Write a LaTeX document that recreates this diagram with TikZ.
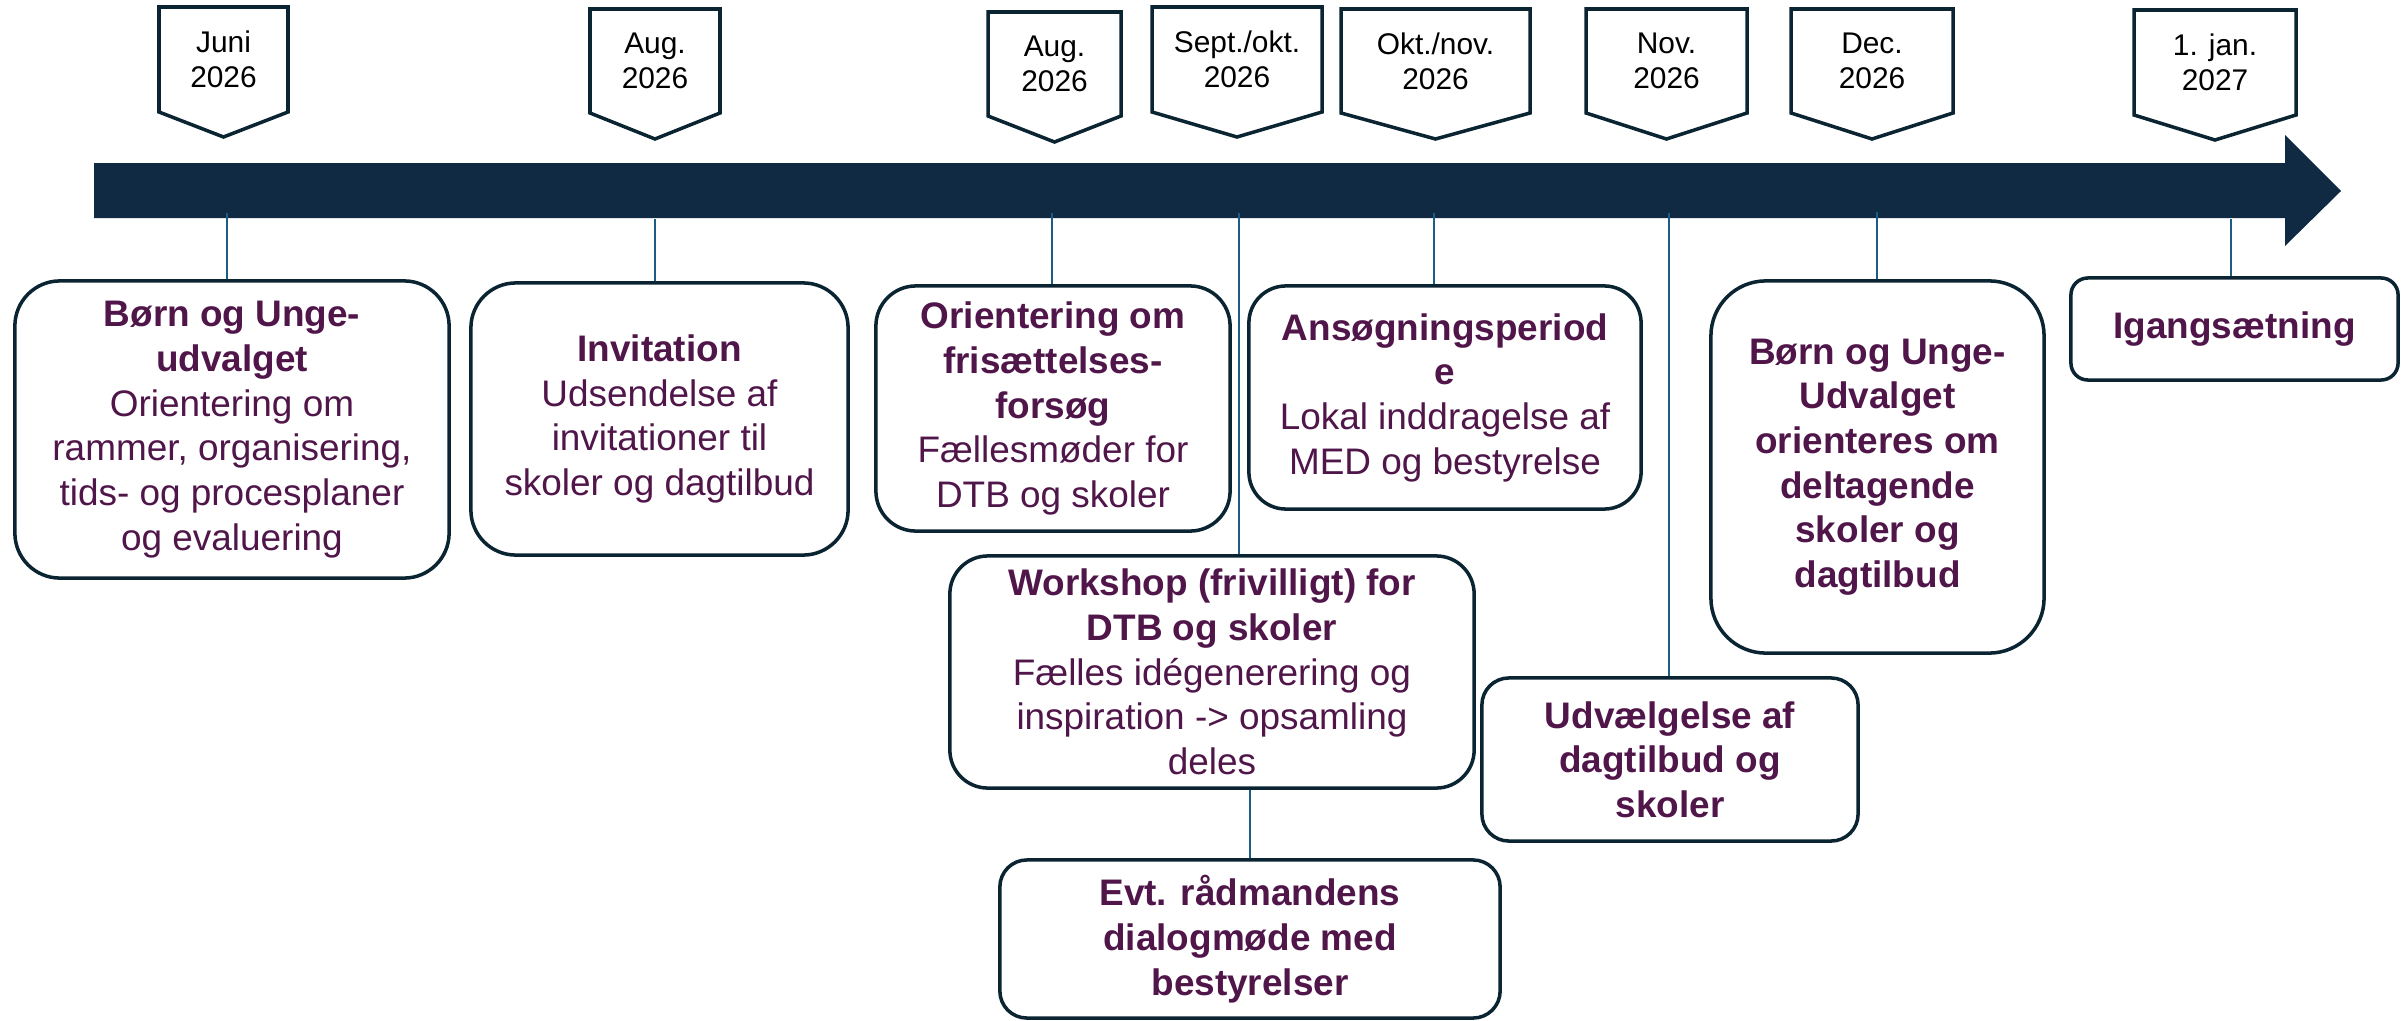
\documentclass[tikz,border=0pt]{standalone}
\usepackage{fontspec}
\setmainfont{Liberation Sans}
\definecolor{barnavy}{RGB}{17,42,68}
\definecolor{edgeteal}{RGB}{10,36,50}
\definecolor{tickblue}{RGB}{26,94,134}
\definecolor{plum}{RGB}{80,22,74}
\begin{document}
\begin{tikzpicture}[x=0.01cm, y=-0.01cm,
  phase/.style={draw=edgeteal,line width=1pt,fill=white,rounded corners=#1,align=center,text=plum,inner sep=2pt,font=\fontsize{10.5}{12.7}\selectfont},
  phasebold/.style={phase=#1,font=\fontsize{10.5}{12.7}\selectfont\bfseries},
  datetag/.style={draw=edgeteal,line width=1pt,fill=white},
  datetxt/.style={align=center,font=\fontsize{8.5}{10}\selectfont},
  tick/.style={draw=tickblue,line width=0.75pt}]
\useasboundingbox (0,0) rectangle (2405,1021);
% timeline bar
\fill[barnavy] (94,163) -- (2285,163) -- (2285,135) -- (2341,191) -- (2285,246) -- (2285,218) -- (94,218) -- cycle;
% date tags
\draw[datetag] (159,7) -- (288,7) -- (288,112) -- (223.5,137) -- (159,112) -- cycle; \node[datetxt] (d1) at (223.5,59.5) {Juni\\2026};
\draw[datetag] (590,9) -- (720,9) -- (720,113) -- (655,139) -- (590,113) -- cycle; \node[datetxt] (d2) at (655,61) {Aug.\\2026};
\draw[datetag] (988,12) -- (1121,12) -- (1121,116) -- (1054.5,142) -- (988,116) -- cycle; \node[datetxt] (d3) at (1054.5,64) {Aug.\\2026};
\draw[datetag] (1152,7) -- (1322,7) -- (1322,112) -- (1237,137) -- (1152,112) -- cycle; \node[datetxt] (d4) at (1237,59.5) {Sept./okt.\\2026};
\draw[datetag] (1341,9) -- (1530,9) -- (1530,113) -- (1435.5,139) -- (1341,113) -- cycle; \node[datetxt] (d5) at (1435.5,61) {Okt./nov.\\2026};
\draw[datetag] (1586,9) -- (1747,9) -- (1747,113) -- (1666.5,139) -- (1586,113) -- cycle; \node[datetxt] (d6) at (1666.5,61) {Nov.\\2026};
\draw[datetag] (1791,9) -- (1953,9) -- (1953,113) -- (1872,139) -- (1791,113) -- cycle; \node[datetxt] (d7) at (1872,61) {Dec.\\2026};
\draw[datetag] (2134,10) -- (2296,10) -- (2296,115) -- (2215,140) -- (2134,115) -- cycle; \node[datetxt] (d8) at (2215,62.5) {1. jan.\\2027};
% phases
\node[phase=0.45cm,minimum width=4.34cm,minimum height=2.97cm] (b1) at (232,429.5) {\textbf{Børn og Unge-}\\\textbf{udvalget}\\Orientering om\\rammer, organisering,\\tids- og procesplaner\\og evaluering};
\node[phase=0.45cm,minimum width=3.77cm,minimum height=2.72cm] (b2) at (659.5,419) {\textbf{Invitation}\\Udsendelse af\\invitationer til\\skoler og dagtilbud};
\node[phase=0.40cm,minimum width=3.54cm,minimum height=2.45cm] (b3) at (1053,408.5) {\textbf{Orientering om}\\\textbf{frisættelses-}\\\textbf{forsøg}\\Fællesmøder for\\DTB og skoler};
\node[phase=0.37cm,minimum width=3.92cm,minimum height=2.23cm] (b4) at (1445,397.5) {\textbf{Ansøgningsperiod}\\\textbf{e}\\Lokal inddragelse af\\MED og bestyrelse};
\node[phase=0.38cm,minimum width=5.24cm,minimum height=2.32cm] (b5) at (1212,672) {\textbf{Workshop (frivilligt) for}\\\textbf{DTB og skoler}\\Fælles idégenerering og\\inspiration -> opsamling\\deles};
\node[phasebold=0.27cm,minimum width=5.00cm,minimum height=1.58cm] (b6) at (1250,939) {Evt. rådmandens\\dialogmøde med\\bestyrelser};
\node[phasebold=0.27cm,minimum width=3.76cm,minimum height=1.63cm] (b7) at (1670,759.5) {Udvælgelse af\\dagtilbud og\\skoler};
\node[phasebold=0.55cm,minimum width=3.33cm,minimum height=3.72cm] (b8) at (1877.5,467) {Børn og Unge-\\Udvalget\\orienteres om\\deltagende\\skoler og\\dagtilbud};
\node[phasebold=0.17cm,minimum width=3.27cm,minimum height=1.02cm] (b9) at (2234.5,329) {Igangsætning};
% ticks from the bar
\coordinate (t1) at (227,213); \coordinate (t2) at (655,219); \coordinate (t3) at (1052,213); \coordinate (t4) at (1239,213);
\coordinate (t5) at (1434,213); \coordinate (t6) at (1669,213); \coordinate (t7) at (1877,212); \coordinate (t8) at (2231,219);
\draw[tick] (t1) -- (t1 |- b1.north); \draw[tick] (t2) -- (t2 |- b2.north); \draw[tick] (t3) -- (t3 |- b3.north);
\draw[tick] (t4) -- (t4 |- b5.north); \draw[tick] (t5) -- (t5 |- b4.north); \draw[tick] (t6) -- (t6 |- b7.north);
\draw[tick] (t7) -- (t7 |- b8.north); \draw[tick] (t8) -- (t8 |- b9.north);
\draw[tick] (b6.north) -- (b6.north |- b5.south);
\end{tikzpicture}
\end{document}
